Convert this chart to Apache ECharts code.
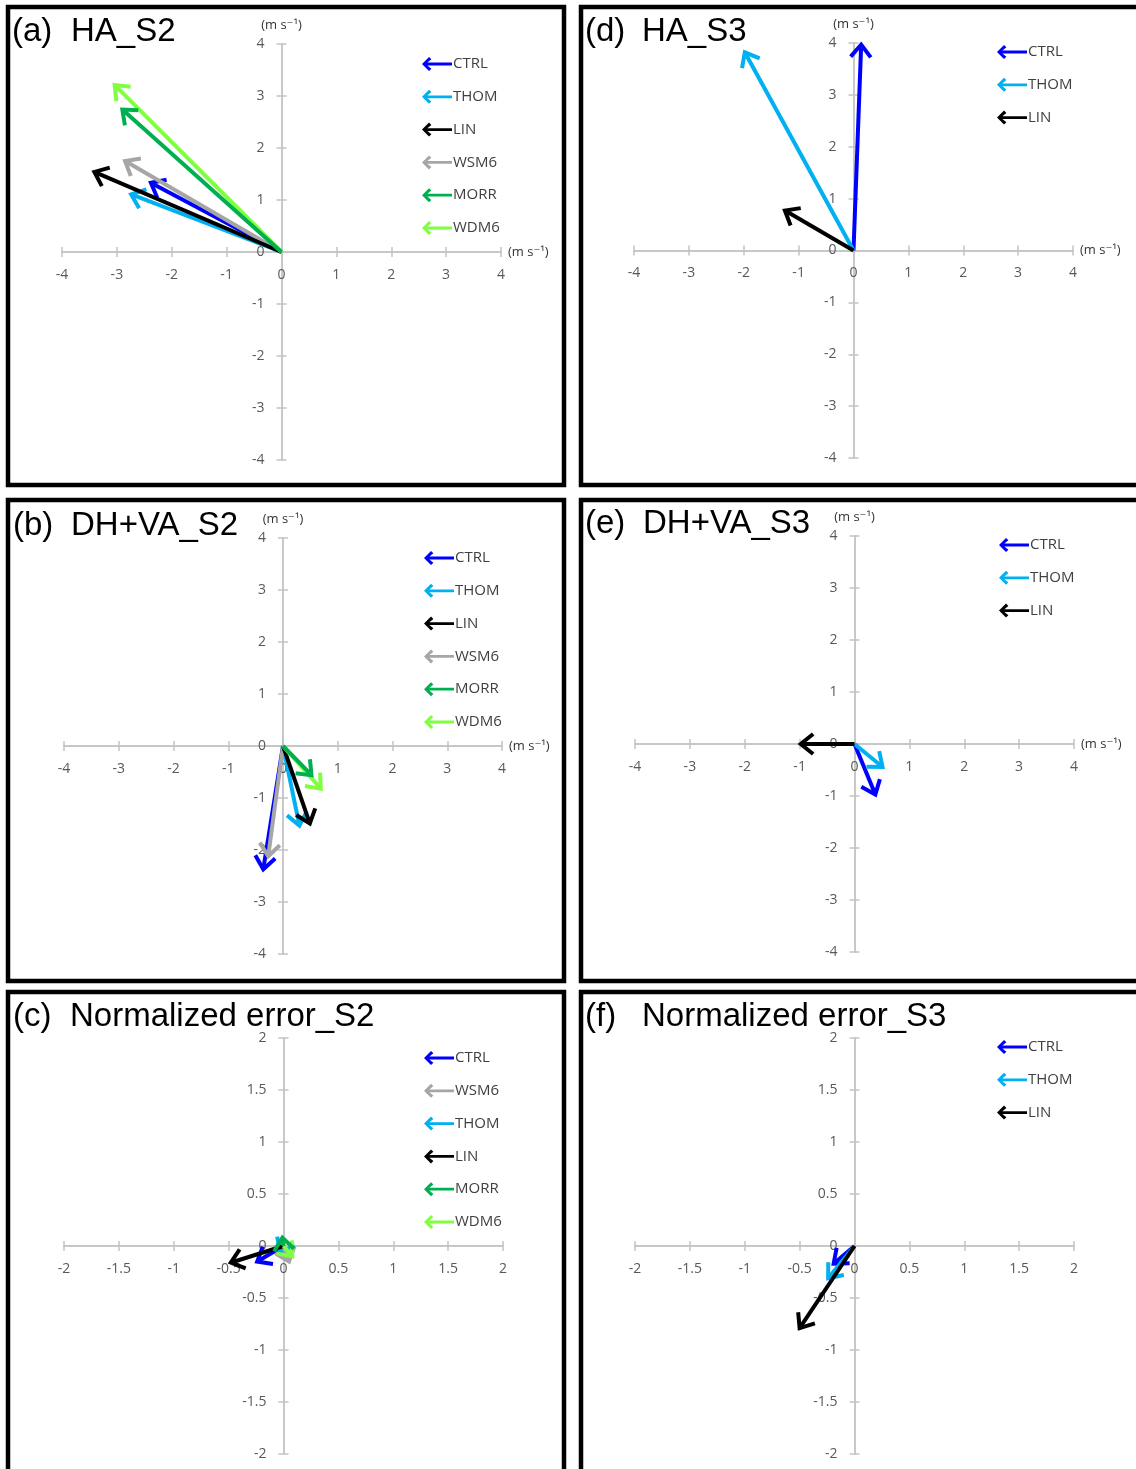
<!DOCTYPE html>
<html><head><meta charset="utf-8">
<script src="https://cdn.jsdelivr.net/npm/echarts@6/dist/echarts.min.js"></script>
<style>html,body{margin:0;padding:0;background:#fff}#c{width:1136px;height:1469px}</style>
</head><body><div id="c"></div>
<script>
// ---------- data ----------
const modelsS2 = ['CTRL', 'THOM', 'LIN', 'WSM6', 'MORR', 'WDM6'];
const legendErrS2 = ['CTRL', 'WSM6', 'THOM', 'LIN', 'MORR', 'WDM6'];
const modelsS3 = ['CTRL', 'THOM', 'LIN'];

// vector components (u, v), in the order of modelsS2 / modelsS3
const haS2U   = [-2.38, -2.74, -3.41, -2.85, -2.90, -3.04];
const haS2V   = [ 1.33,  1.11,  1.54,  1.75,  2.74,  3.21];
const dhvaS2U = [-0.36,  0.30,  0.49, -0.27,  0.52,  0.69];
const dhvaS2V = [-2.37, -1.53, -1.49, -2.12, -0.56, -0.82];
const errS2U  = [-0.24, -0.03, -0.48,  0.05, -0.01,  0.08];
const errS2V  = [-0.15, -0.06, -0.16, -0.15,  0.08, -0.10];
const haS3U   = [ 0.14, -1.98, -1.25];
const haS3V   = [ 3.97,  3.82,  0.77];
const dhvaS3U = [ 0.38,  0.51, -0.98];
const dhvaS3V = [-0.97, -0.44,  0.00];
const errS3U  = [-0.19, -0.24, -0.50];
const errS3V  = [-0.17, -0.31, -0.79];

// axis tick ranges [min, max, interval]
const windTicks = [-4, 4, 1];
const errTicks  = [-2, 2, 0.5];
const unitLabel = '(m s\u207B\u00B9)';

// ---------- style ----------
const modelColors = { CTRL: '#0000ff', THOM: '#00b0f0', LIN: '#000000', WSM6: '#a6a6a6', MORR: '#00b050', WDM6: '#80ff40' };
const drawOrderS2 = ['CTRL', 'THOM', 'WSM6', 'LIN', 'WDM6', 'MORR'];

const panels = [
  { tag: '(a)', name: 'HA_S2', models: modelsS2, order: drawOrderS2, legend: modelsS2, u: haS2U, v: haS2V, ticks: windTicks, unit: true,
    grid: [62, 44, 439, 416], tagPos: [12, 15], namePos: [71, 15], legendPos: [422, 56], box: [8, 7, 556, 478] },
  { tag: '(b)', name: 'DH+VA_S2', models: modelsS2, order: drawOrderS2, legend: modelsS2, u: dhvaS2U, v: dhvaS2V, ticks: windTicks, unit: true,
    grid: [64, 538, 438, 416], tagPos: [13, 509], namePos: [71, 509], legendPos: [424, 550], box: [8, 500, 556, 481] },
  { tag: '(c)', name: 'Normalized error_S2', models: modelsS2, order: drawOrderS2, legend: legendErrS2, u: errS2U, v: errS2V, ticks: errTicks, unit: false,
    grid: [64, 1038, 439, 416], tagPos: [13, 1000], namePos: [70, 1000], legendPos: [424, 1050], box: [8, 992, 556, 490] },
  { tag: '(d)', name: 'HA_S3', models: modelsS3, order: modelsS3, legend: modelsS3, u: haS3U, v: haS3V, ticks: windTicks, unit: true,
    grid: [634, 43, 439, 415], tagPos: [585, 15], namePos: [642, 15], legendPos: [997, 44], box: [581, 7, 570, 478] },
  { tag: '(e)', name: 'DH+VA_S3', models: modelsS3, order: modelsS3, legend: modelsS3, u: dhvaS3U, v: dhvaS3V, ticks: windTicks, unit: true,
    grid: [635, 536, 439, 416], tagPos: [585, 507], namePos: [643, 507], legendPos: [999, 537], box: [581, 500, 570, 481] },
  { tag: '(f)', name: 'Normalized error_S3', models: modelsS3, order: modelsS3, legend: modelsS3, u: errS3U, v: errS3V, ticks: errTicks, unit: false,
    grid: [635, 1038, 439, 416], tagPos: [585, 1000], namePos: [642, 1000], legendPos: [997, 1039], box: [581, 992, 570, 490] }
];

const AX = '#c4c4c4';
const LBL = '#595959';
const FONT = '"Open Sans", "DejaVu Sans", sans-serif';
const arrowIcon = 'path://M0,8 L7,1 L9.4,3.3 L5.4,6.6 L30,6.6 L30,9.4 L5.4,9.4 L9.4,12.7 L7,15 Z';

function renderArrow(params, api) {
  const p0 = api.coord([0, 0]);
  const p1 = api.coord([api.value(0), api.value(1)]);
  const color = api.visual('color');
  const ang = Math.atan2(p1[1] - p0[1], p1[0] - p0[0]);
  const L = 16, A = 0.68;
  const h1 = [p1[0] - L * Math.cos(ang - A), p1[1] - L * Math.sin(ang - A)];
  const h2 = [p1[0] - L * Math.cos(ang + A), p1[1] - L * Math.sin(ang + A)];
  const e = [p1[0] - 3 * Math.cos(ang), p1[1] - 3 * Math.sin(ang)];
  return {
    type: 'group',
    children: [
      { type: 'line', shape: { x1: p0[0], y1: p0[1], x2: e[0], y2: e[1] }, style: { stroke: color, lineWidth: 4 } },
      { type: 'polyline', shape: { points: [h1, p1, h2] }, style: { stroke: color, fill: null, lineWidth: 4, lineJoin: 'miter' } }
    ]
  };
}

const grid = [], xAxis = [], yAxis = [], series = [], legend = [], title = [], graphic = [];

panels.forEach((p, i) => {
  grid.push({ left: p.grid[0], top: p.grid[1], width: p.grid[2], height: p.grid[3], containLabel: false });
  // symmetric ranges: zero sits at the middle of the grid, so move each axis inward by half the grid size
  const base = (dim, inside) => ({
    type: 'value', gridIndex: i, min: p.ticks[0], max: p.ticks[1], interval: p.ticks[2],
    position: dim === 'x' ? 'bottom' : 'left',
    offset: dim === 'x' ? -p.grid[3] / 2 : -p.grid[2] / 2,
    axisLine: { show: true, onZero: false, lineStyle: { color: AX, width: 1.5 } },
    axisTick: { show: true, inside: inside, length: 5, lineStyle: { color: AX, width: 1.5 } },
    splitLine: { show: false },
    axisLabel: inside ? { show: false } : {
      show: true, color: LBL, fontSize: 14, fontFamily: FONT, margin: dim === 'x' ? 16 : 17,
      showMinLabel: true, showMaxLabel: true
    }
  });
  const xm = base('x', false), ym = base('y', false);
  if (p.unit) {
    xm.name = unitLabel; xm.nameLocation = 'end'; xm.nameGap = 7;
    xm.nameTextStyle = { color: '#333', fontSize: 13, fontFamily: FONT, align: 'left', verticalAlign: 'middle' };
    ym.name = unitLabel; ym.nameLocation = 'end'; ym.nameGap = 12;
    ym.nameTextStyle = { color: '#333', fontSize: 13, fontFamily: FONT, align: 'center', verticalAlign: 'bottom' };
  }
  xAxis.push(xm, base('x', true));
  yAxis.push(ym, base('y', true));

  p.order.forEach(m => {
    const k = p.models.indexOf(m);
    series.push({
      type: 'custom', name: m, xAxisIndex: 2 * i, yAxisIndex: 2 * i,
      data: [[p.u[k], p.v[k]]], encode: { x: 0, y: 1 },
      itemStyle: { color: modelColors[m] }, renderItem: renderArrow, z: 5, silent: true
    });
  });

  legend.push({
    data: p.legend, orient: 'vertical', left: p.legendPos[0], top: p.legendPos[1], padding: 0,
    icon: arrowIcon, itemWidth: 30, itemHeight: 16, itemGap: 16.8, selectedMode: false,
    textStyle: { color: '#404040', fontSize: 15, fontFamily: FONT, lineHeight: 16, padding: [0, 0, 0, -4] }
  });

  title.push({ text: p.tag, left: p.tagPos[0], top: p.tagPos[1], padding: 0,
    textStyle: { fontFamily: '"Liberation Sans", Arial, sans-serif', fontSize: 33, fontWeight: 'normal', color: '#000' } });
  title.push({ text: p.name, left: p.namePos[0], top: p.namePos[1], padding: 0,
    textStyle: { fontFamily: '"Liberation Sans", Arial, sans-serif', fontSize: 33, fontWeight: 'normal', color: '#000' } });

  graphic.push({ type: 'rect', shape: { x: p.box[0], y: p.box[1], width: p.box[2], height: p.box[3] },
    style: { stroke: '#000', lineWidth: 4.5, fill: null }, z: 100 });
});

const chart = echarts.init(document.getElementById('c'), null, { renderer: 'canvas' });
chart.setOption({
  backgroundColor: '#ffffff', animation: false,
  grid, xAxis, yAxis, series, legend, title, graphic
});
</script>
</body></html>
